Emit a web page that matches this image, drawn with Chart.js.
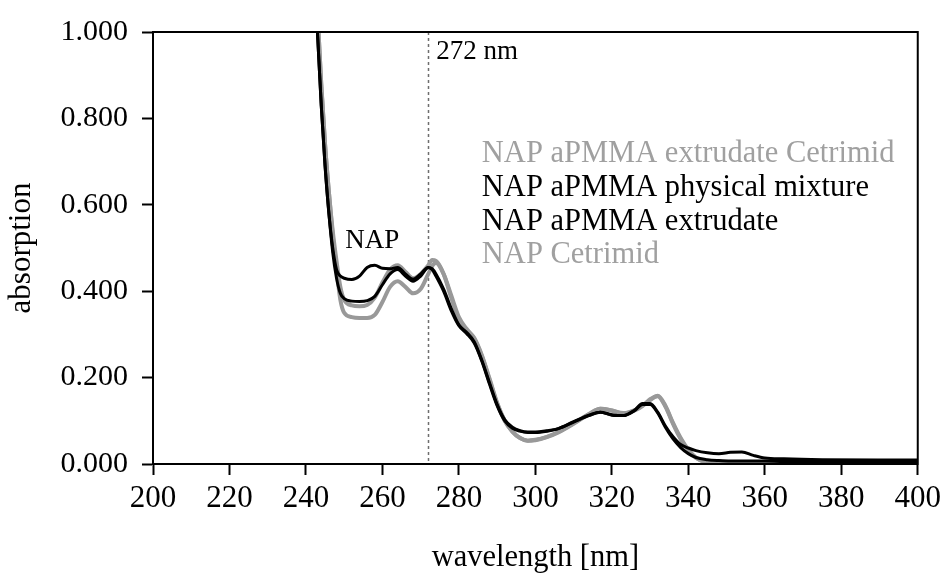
<!DOCTYPE html>
<html>
<head>
<meta charset="utf-8">
<title>NAP absorption spectra</title>
<script src="https://cdn.jsdelivr.net/npm/chart.js@4.4.1/dist/chart.umd.min.js"></script>
<style>
    html, body { margin: 0; padding: 0; background: #fff; }
    #spectraChart { display: block; }
</style>
</head>
<body>
<canvas id="spectraChart" width="946" height="581"></canvas>
<script>
const wavelengths = [240, 242, 243, 244, 245, 246, 247, 248, 249, 250, 252, 254, 256, 258, 260, 262, 264, 266, 268, 270, 272, 273, 274, 276, 278, 280, 282, 284, 286, 288, 290, 292, 294, 296, 298, 300, 303, 306, 310, 314, 317, 320, 323, 326, 328, 330, 332, 334, 336, 338, 340, 342, 345, 348, 351, 354, 357, 360, 365, 375, 390, 400];

const absExtrudateCetrimid = [1.6, 1.2, 1.05, 0.88, 0.74, 0.63, 0.54, 0.47, 0.41, 0.38, 0.367, 0.365, 0.368, 0.385, 0.42, 0.45, 0.46, 0.445, 0.43, 0.44, 0.46, 0.472, 0.47, 0.44, 0.385, 0.335, 0.31, 0.29, 0.25, 0.195, 0.14, 0.10, 0.075, 0.06, 0.054, 0.055, 0.062, 0.073, 0.093, 0.115, 0.128, 0.124, 0.118, 0.125, 0.135, 0.148, 0.158, 0.135, 0.095, 0.06, 0.033, 0.015, 0.003, 0.0, 0.0, 0.0, 0.0, 0.0, 0.0, 0.0, 0.0, 0.0];
const absPhysicalMixture = [1.55, 1.15, 1.0, 0.83, 0.69, 0.58, 0.50, 0.45, 0.435, 0.43, 0.427, 0.435, 0.455, 0.46, 0.453, 0.452, 0.455, 0.44, 0.428, 0.44, 0.455, 0.45, 0.435, 0.40, 0.355, 0.32, 0.302, 0.28, 0.238, 0.185, 0.135, 0.10, 0.083, 0.076, 0.073, 0.073, 0.076, 0.082, 0.098, 0.113, 0.12, 0.113, 0.112, 0.125, 0.14, 0.14, 0.12, 0.088, 0.063, 0.045, 0.037, 0.031, 0.026, 0.024, 0.027, 0.028, 0.02, 0.014, 0.012, 0.01, 0.009, 0.009];
const absExtrudate = [1.55, 1.15, 1.0, 0.83, 0.69, 0.58, 0.49, 0.43, 0.395, 0.383, 0.377, 0.376, 0.378, 0.388, 0.415, 0.44, 0.45, 0.435, 0.423, 0.435, 0.455, 0.452, 0.44, 0.405, 0.36, 0.322, 0.305, 0.283, 0.24, 0.188, 0.138, 0.102, 0.085, 0.077, 0.074, 0.074, 0.077, 0.082, 0.097, 0.112, 0.12, 0.114, 0.112, 0.124, 0.138, 0.138, 0.118, 0.085, 0.058, 0.038, 0.024, 0.015, 0.01, 0.008, 0.007, 0.007, 0.007, 0.007, 0.006, 0.006, 0.006, 0.006];
const absCetrimid = [1.6, 1.2, 1.05, 0.88, 0.74, 0.63, 0.53, 0.45, 0.38, 0.35, 0.34, 0.338, 0.338, 0.345, 0.375, 0.41, 0.423, 0.41, 0.395, 0.405, 0.44, 0.458, 0.465, 0.44, 0.39, 0.34, 0.313, 0.292, 0.252, 0.198, 0.142, 0.10, 0.075, 0.06, 0.054, 0.056, 0.063, 0.074, 0.094, 0.116, 0.128, 0.124, 0.117, 0.124, 0.134, 0.15, 0.157, 0.133, 0.093, 0.058, 0.032, 0.014, 0.003, 0.0, 0.0, 0.0, 0.0, 0.0, 0.0, 0.0, 0.0, 0.0];

const seriesLabels = ['NAP aPMMA extrudate Cetrimid', 'NAP aPMMA physical mixture', 'NAP aPMMA extrudate', 'NAP Cetrimid'];
const seriesColors = ['#999999', '#000000', '#000000', '#999999'];
const legendColors = ['#a0a0a0', '#000000', '#000000', '#a0a0a0'];

const xTicks = [200, 220, 240, 260, 280, 300, 320, 340, 360, 380, 400];
const yTicks = [0, 0.2, 0.4, 0.6, 0.8, 1.0];
const markerWavelength = 272;

const serif = 'Liberation Serif, Times New Roman, serif';

const toPoints = ys => wavelengths.map((w, i) => ({ x: w, y: ys[i] }));

const seriesValues = [absExtrudateCetrimid, absPhysicalMixture, absExtrudate, absCetrimid];
const widths = [4, 3, 3, 4];

// draw order: blacks first, greys on top as in the original
const drawOrder = [1, 2, 3, 0];
const datasets = drawOrder.map(i => ({
    label: seriesLabels[i],
    data: toPoints(seriesValues[i]),
    borderColor: seriesColors[i],
    borderWidth: widths[i],
    pointRadius: 0,
    fill: false,
    cubicInterpolationMode: 'monotone'
}));

const markerLine = {
    id: 'markerLine',
    beforeDatasetsDraw(chart) {
        const { ctx, chartArea, scales } = chart;
        const x = Math.round(scales.x.getPixelForValue(markerWavelength)) + 0.5;
        ctx.save();
        ctx.strokeStyle = '#6e6e6e';
        ctx.lineWidth = 1.5;
        ctx.setLineDash([3, 3]);
        ctx.beginPath();
        ctx.moveTo(x, chartArea.top);
        ctx.lineTo(x, chartArea.bottom);
        ctx.stroke();
        ctx.restore();
    }
};

const frameAndText = {
    id: 'frameAndText',
    afterDatasetsDraw(chart) {
        const { ctx, chartArea, scales } = chart;
        ctx.save();
        ctx.strokeStyle = '#000';
        ctx.lineWidth = 2;
        ctx.strokeRect(chartArea.left, chartArea.top, chartArea.right - chartArea.left, chartArea.bottom - chartArea.top);

        ctx.textAlign = 'left';
        ctx.textBaseline = 'middle';
        ctx.font = '27px ' + serif;
        ctx.fillStyle = '#000';
        ctx.fillText(markerWavelength + ' nm', scales.x.getPixelForValue(274.1), scales.y.getPixelForValue(0.954));
        ctx.fillText('NAP', scales.x.getPixelForValue(250.3), scales.y.getPixelForValue(0.517));

        ctx.font = '30.5px ' + serif;
        const legendY = [0.717, 0.639, 0.561, 0.483];
        seriesLabels.forEach((label, i) => {
            ctx.fillStyle = legendColors[i];
            ctx.fillText(label, scales.x.getPixelForValue(286.0), scales.y.getPixelForValue(legendY[i]));
        });
        ctx.restore();
    }
};

new Chart(document.getElementById('spectraChart'), {
    type: 'line',
    data: { datasets: datasets },
    options: {
        responsive: false,
        animation: false,
        layout: { padding: { top: 29, right: 26, left: 0, bottom: 0 } },
        plugins: {
            legend: { display: false },
            tooltip: { enabled: false }
        },
        scales: {
            x: {
                type: 'linear',
                min: 200,
                max: 400,
                afterBuildTicks: axis => { axis.ticks = xTicks.map(v => ({ value: v })); },
                afterFit: axis => { axis.height = 117; },
                grid: { drawOnChartArea: false, drawTicks: true, tickLength: 11, tickWidth: 2, tickColor: '#000' },
                border: { display: true, color: '#000', width: 2 },
                ticks: { color: '#000', padding: 5, maxRotation: 0, font: { family: serif, size: 31 } },
                title: { display: true, text: 'wavelength [nm]', color: '#000', padding: { bottom: 5 }, font: { family: serif, size: 30.5 } }
            },
            y: {
                min: 0,
                max: 1,
                afterBuildTicks: axis => { axis.ticks = yTicks.map(v => ({ value: v })); },
                afterFit: axis => { axis.width = 153; },
                grid: { drawOnChartArea: false, drawTicks: true, tickLength: 11, tickWidth: 2, tickColor: '#000' },
                border: { display: true, color: '#000', width: 2 },
                ticks: { color: '#000', padding: 14, font: { family: serif, size: 30 }, callback: v => Number(v).toFixed(3) },
                title: { display: true, text: 'absorption', color: '#000', padding: { top: 3 }, font: { family: serif, size: 31 } }
            }
        }
    },
    plugins: [markerLine, frameAndText]
});
</script>
</body>
</html>
